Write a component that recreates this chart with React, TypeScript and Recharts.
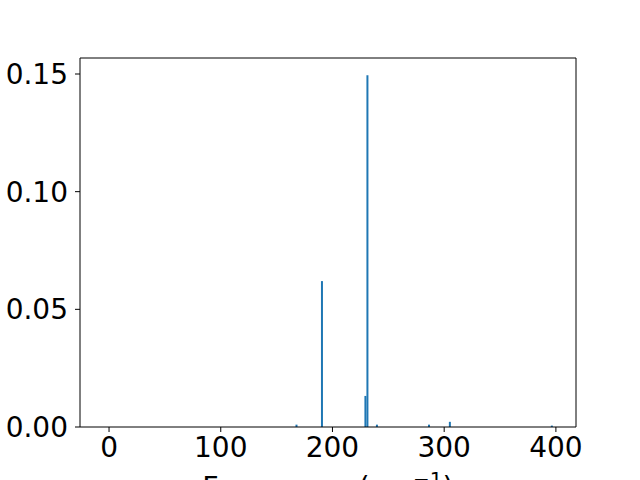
import { BarChart, Bar, XAxis, YAxis, Label, ReferenceLine } from 'recharts'

// peak positions (cm^-1) and intensities
const frequencies = [167.8, 190.6, 229.5, 231.3, 239.8, 286.4, 305.1, 396.4]
const intensities = [0.001, 0.062, 0.0132, 0.1495, 0.001, 0.001, 0.0022, 0.0006]
const xTicks = [0, 100, 200, 300, 400]
const yTicks = [0, 0.05, 0.1, 0.15]
const xDomain = [-26, 418]
const yDomain = [0, 0.1568]

const data = frequencies.map((f, i) => ({ freq: f, value: intensities[i] }))

const font = 'DejaVu Sans, sans-serif'
const tickStyle = { fill: '#000', fontSize: 28, fontFamily: font }

function XLabel(props: any) {
  const { viewBox } = props
  const cx = viewBox.x + viewBox.width / 2
  return (
    <text x={cx} y={497} textAnchor="middle" fontSize={28.5} fontFamily={font} fill="#000">
      Frequency (cm
      <tspan dy={-11} fontSize={20}>−1</tspan>
      <tspan dy={11}>)</tspan>
    </text>
  )
}

export default function App() {
  return (
    <div style={{ position: 'absolute', left: 0, top: 0, width: 640, height: 480, background: '#fff', overflow: 'hidden' }}>
      <BarChart
        width={640}
        height={480}
        data={data}
        margin={{ top: 58, right: 64, bottom: 0, left: 0 }}
        barSize={2}
        style={{ overflow: 'visible' }}
      >
        <XAxis
          dataKey="freq"
          type="number"
          domain={xDomain}
          ticks={xTicks}
          tick={tickStyle}
          tickSize={5}
          tickMargin={5}
          stroke="#000"
          height={53}
          allowDataOverflow
        >
          <Label content={<XLabel />} />
        </XAxis>
        <YAxis
          type="number"
          domain={yDomain}
          ticks={yTicks}
          tickFormatter={(v: number) => v.toFixed(2)}
          tick={tickStyle}
          tickSize={5}
          tickMargin={7}
          stroke="#000"
          width={80}
          allowDataOverflow
        />
        <ReferenceLine y={yDomain[1]} stroke="#000" />
        <ReferenceLine x={xDomain[1]} stroke="#000" />
        <Bar dataKey="value" fill="#1f77b4" isAnimationActive={false} />
      </BarChart>
    </div>
  )
}
